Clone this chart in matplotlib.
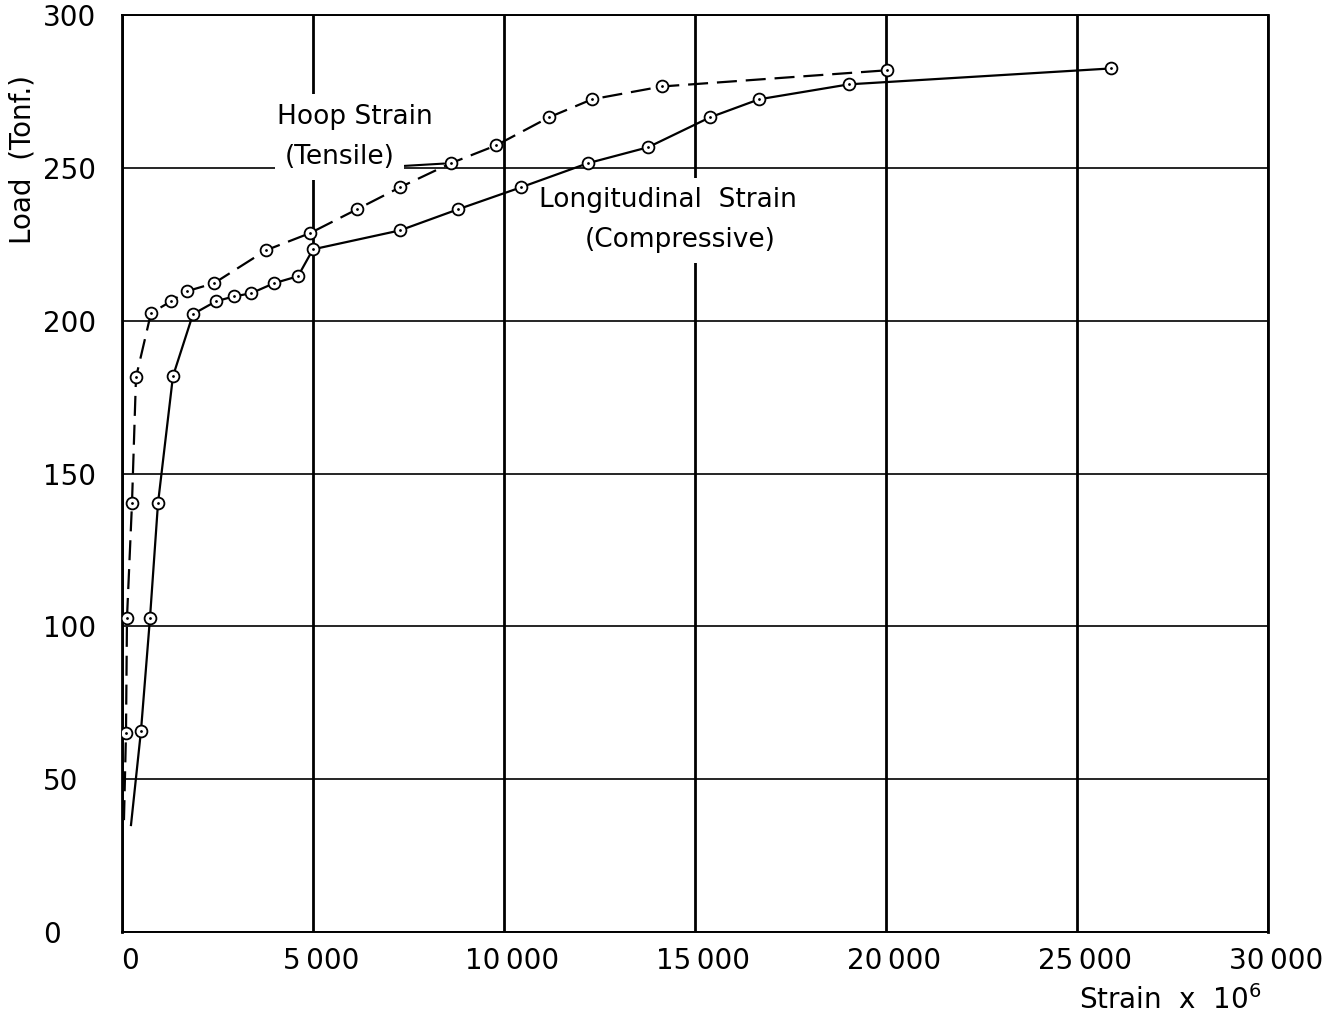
import numpy as np
import matplotlib
matplotlib.use("Agg")
import matplotlib.pyplot as plt
import matplotlib.transforms as mtransforms

# hoop strain (tensile), first point is the line start with no marker
hoop_strain = [52, 105, 131, 262, 367, 759, 1283, 1702, 2408, 3770, 4922,
               6152, 7278, 8613, 9791, 11178, 12305, 14137, 20027]
hoop_load = [36.6, 65.1, 102.7, 140.3, 181.5, 202.5, 206.4, 209.7, 212.3,
             223.1, 228.7, 236.5, 243.7, 251.6, 257.4, 266.6, 272.5, 276.7, 282.0]

# longitudinal strain (compressive)
long_strain = [236, 497, 733, 943, 1335, 1859, 2461, 2932, 3377, 3979, 4608,
               5000, 7278, 8797, 10446, 12200, 13771, 15394, 16677, 19033, 25892]
long_load = [35.0, 65.8, 102.7, 140.3, 181.9, 202.2, 206.4, 208.0, 209.0, 212.3,
             214.6, 223.4, 229.6, 236.5, 243.7, 251.6, 256.8, 266.6, 272.5, 277.4, 282.6]

xticks = np.arange(0, 30001, 5000)
xtick_labels = ["0", "5\u2009000", "10\u2009000", "15\u2009000", "20\u2009000", "25\u2009000", "30\u2009000"]
yticks = np.arange(0, 301, 50)

plt.rcParams['font.family'] = ['DejaVu Sans']

fig = plt.figure(figsize=(13.36, 10.18), dpi=100)
ax = fig.add_axes([0.0913, 0.0845, 0.8578, 0.9005])

ax.set_xlim(0, 30000)
ax.set_ylim(0, 300)
ax.set_xticks(xticks)
ax.set_xticklabels(xtick_labels)
ax.set_yticks(yticks)

ax.xaxis.grid(True, color='black', lw=2.0, zorder=0)
ax.yaxis.grid(True, color='black', lw=1.2, zorder=0)
ax.set_axisbelow(True)
for side, w in [('left', 2.0), ('right', 2.0), ('top', 1.4), ('bottom', 1.4)]:
    ax.spines[side].set_linewidth(w)

ax.tick_params(axis='x', length=0, pad=11, labelsize=20)
ax.tick_params(axis='y', length=0, pad=57, labelsize=20)
for lab in ax.get_yticklabels():
    lab.set_horizontalalignment('left')
# x labels sit a little right of their grid line
shift = mtransforms.ScaledTranslation(0.08, 0, fig.dpi_scale_trans)
for lab in ax.get_xticklabels():
    lab.set_transform(lab.get_transform() + shift)

mk = dict(marker='o', markersize=8.5, markerfacecolor='white',
          markeredgecolor='black', markeredgewidth=1.3, markevery=slice(1, None))

ax.plot(hoop_strain, hoop_load, color='black', lw=1.6, dashes=(9, 4), zorder=3, **mk)
ax.plot(long_strain, long_load, color='black', lw=1.6, zorder=3, **mk)
# centre dots inside the circles
ax.plot(hoop_strain[1:], hoop_load[1:], ls='none', marker='.', markersize=2, color='black', zorder=4)
ax.plot(long_strain[1:], long_load[1:], ls='none', marker='.', markersize=2, color='black', zorder=4)

box = dict(facecolor='white', edgecolor='none', pad=7)
ax.text(0.203, 0.889, "Hoop Strain", transform=ax.transAxes, ha='center', va='center',
        fontsize=19, bbox=box, zorder=2)
ax.annotate("(Tensile)", xy=(hoop_strain[13], hoop_load[13]), xytext=(0.190, 0.845),
            textcoords='axes fraction', ha='center', va='center', fontsize=19, bbox=box, zorder=2,
            arrowprops=dict(arrowstyle='-', color='black', lw=1.5, relpos=(1, 0.15),
                            shrinkA=0, shrinkB=5))
ax.text(0.476, 0.798, "Longitudinal  Strain", transform=ax.transAxes, ha='center', va='center',
        fontsize=19, bbox=box, zorder=2)
ax.text(0.487, 0.755, "(Compressive)", transform=ax.transAxes, ha='center', va='center',
        fontsize=19, bbox=box, zorder=2)

fig.text(22 / 1336, 1 - 159 / 1018, "Load  (Tonf.)", rotation=90, ha='center', va='center', fontsize=20)
fig.text(1170 / 1336, 1 - 1000 / 1018, "Strain  x  10$^{6}$", ha='center', va='center', fontsize=20)

fig.savefig("out.png", dpi=100, facecolor='white')
